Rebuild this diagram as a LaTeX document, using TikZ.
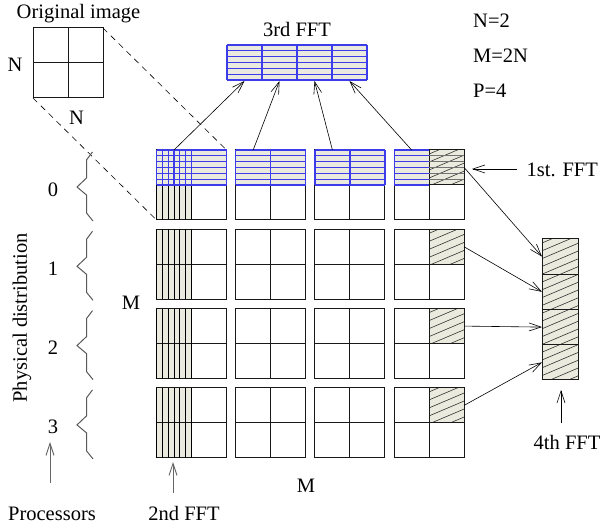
\documentclass[tikz,border=0pt]{standalone}
\usepackage{fontspec}
\setmainfont{Liberation Serif}
\usetikzlibrary{arrows.meta}
\definecolor{beige}{RGB}{234,234,222}
\definecolor{fftblue}{RGB}{60,60,235}
\begin{document}
\begin{tikzpicture}[x=1pt,y=-1pt,
  every node/.style={font=\fontsize{20.5}{24}\selectfont, inner sep=0pt},
  gridline/.style={line width=1pt, black!90},
  stripline/.style={line width=1pt, black},
  blueline/.style={line width=1.2pt, fftblue},
  hatchline/.style={line width=0.6pt, black!80},
  bracel/.style={line width=1pt, black!65},
  arr/.style={-{Straight Barb[length=12pt,width=8pt]}, line width=0.6pt},
  grayarr/.style={-{Straight Barb[length=12pt,width=8pt]}, line width=0.9pt, black!60},
  dashl/.style={line width=0.6pt, dash pattern=on 6pt off 5pt}]
\useasboundingbox (0,0) rectangle (603,526);

% ---------- fills ----------
\foreach \i in {0,...,3}{
  \pgfmathsetmacro\X{156.5+79.2*\i}
  \fill[beige] (\X,150) rectangle (\X+70,185);
}
\foreach \j in {0,...,3}{
  \pgfmathsetmacro\Y{150+79.3*\j}
  \fill[beige] (156.5,\Y) rectangle (191.5,\Y+70);
  % hatched top-right cell of last block
  \begin{scope}
    \clip (429.1,\Y) rectangle (464.1,\Y+35);
    \fill[beige] (429.1,\Y) rectangle (464.1,\Y+35);
    \foreach \k in {0,...,11}{
      \draw[hatchline] (429.1,\Y-4+8*\k) -- ++(40,-17);
    }
  \end{scope}
}
% 3rd FFT
\fill[beige] (227,45) rectangle (367,80);
% 4th FFT
\begin{scope}
  \clip (542.5,239) rectangle (578,380);
  \fill[beige] (542.5,239) rectangle (578,380);
  \foreach \k in {0,...,22}{
    \draw[hatchline] (542.5,235+7.8*\k) -- ++(40,-17);
  }
\end{scope}

% ---------- black grid ----------
\foreach \j in {0,...,3}{
  \foreach \i in {0,...,3}{
    \pgfmathsetmacro\X{156.5+79.2*\i}
    \pgfmathsetmacro\Y{150+79.3*\j}
    \draw[gridline] (\X,\Y) rectangle (\X+70,\Y+70);
    \draw[gridline] (\X+35,\Y) -- (\X+35,\Y+70);
    \draw[gridline] (\X,\Y+35) -- (\X+70,\Y+35);
  }
}
% 2nd FFT column strips
\foreach \j in {0,...,3}{
  \pgfmathsetmacro\Y{150+79.3*\j}
  \pgfmathsetmacro\Ys{\j==0 ? 185 : \Y}
  \foreach \k in {0,...,6}{
    \draw[stripline] (156.5+35*\k/6,\Ys) -- (156.5+35*\k/6,\Y+70);
  }
}
% grey lines in the hatched cell of row 0
\foreach \k in {1,...,5}{
  \draw[line width=0.8pt, black!55] (429.1,150+35*\k/6) -- (464.1,150+35*\k/6);
}

% ---------- blue (row 0, 1st FFT) ----------
\foreach \i in {0,...,2}{
  \pgfmathsetmacro\X{156.5+79.2*\i}
  \foreach \k in {0,...,6}{
    \draw[blueline] (\X,150+35*\k/6) -- (\X+70,150+35*\k/6);
  }
  \draw[blueline] (\X,150) -- (\X,185);
  \draw[blueline] (\X+35,150) -- (\X+35,185);
  \draw[blueline] (\X+70,150) -- (\X+70,185);
}
\foreach \k in {0,...,6}{
  \draw[blueline] (394.1,150+35*\k/6) -- (429.1,150+35*\k/6);
}
\draw[blueline] (394.1,150) -- (394.1,185);
\foreach \k in {0,...,6}{
  \draw[blueline] (156.5+35*\k/6,150) -- (156.5+35*\k/6,185);
}
% 3rd FFT lines
\foreach \k in {0,...,6}{
  \draw[blueline] (227,45+35*\k/6) -- (367,45+35*\k/6);
}
\foreach \m in {0,...,4}{
  \draw[blueline] (227+35*\m,45) -- (227+35*\m,80);
}
% 4th FFT outline
\draw[gridline] (542.5,239) rectangle (578,380);
\foreach \m in {1,...,3}{
  \draw[gridline] (542.5,239+35.25*\m) -- (578,239+35.25*\m);
}

% ---------- original image ----------
\draw[gridline] (33,28) rectangle (103,98);
\draw[gridline] (68,28) -- (68,98);
\draw[gridline] (33,63) -- (103,63);
\coordinate (oTR) at (103,28);
\coordinate (oBL) at (33,98);
\coordinate (bTR) at (226.5,150);
\coordinate (bBL) at (156.5,220);
\draw[dashl] (oTR) -- (bTR);
\draw[dashl] (oBL) -- (bBL);

% ---------- braces ----------
\foreach \j in {0,...,3}{
  \pgfmathsetmacro\Y{150+79.3*\j}
  \draw[bracel] (92.5,\Y+2) -- (86.5,\Y+10) -- (86.5,\Y+28) -- (77,\Y+37)
    -- (86.5,\Y+45) -- (86.5,\Y+63) -- (93,\Y+71);
}

% ---------- arrows ----------
\foreach \i in {0,...,3}{
  \pgfmathsetmacro\X{156.5+79.2*\i}
  \coordinate (src\i) at (\X+17.5,150);
  \coordinate (dst\i) at (244.5+35*\i,81);
  \draw[arr] (src\i) -- (dst\i);
}
\foreach \j in {0,...,3}{
  \pgfmathsetmacro\Y{150+79.3*\j}
  \coordinate (hs\j) at (464.1,\Y+17.5);
  \coordinate (ht\j) at (542,239+35.25*\j+17.6);
  \draw[arr] (hs\j) -- (ht\j);
}

% ---------- labels ----------
\node[anchor=base] (lorig) at (78.5,18.5) {Original image};
\node[anchor=base] (lN1) at (15,72) {N};
\node[anchor=base] (lN2) at (76.5,125) {N};
\node[anchor=base] (l3rd) at (297,36.5) {3rd FFT};
\node[anchor=base west] (lN) at (473,28) {N=2};
\node[anchor=base west] (lM) at (473,63) {M=2N};
\node[anchor=base west] (lP) at (473,97.5) {P=4};
\node[anchor=base west] (l1st) at (526.5,176.5) {1st. FFT};
\node[anchor=base] (l4th) at (567,450) {4th FFT};
\node[anchor=base] (l2nd) at (184,521) {2nd FFT};
\node[anchor=base] (lproc) at (52,521) {Processors};
\node[anchor=base] (lMb) at (306,493) {M};
\node[anchor=base] (lMl) at (131,310) {M};
\node[anchor=base] (p0) at (53,197) {0};
\node[anchor=base] (p1) at (53,276) {1};
\node[anchor=base] (p2) at (53,355) {2};
\node[anchor=base] (p3) at (53,434) {3};
\node[rotate=90] (lphys) at (22,318) {Physical distribution};

\coordinate (a1s) at (517,169);
\coordinate (a1t) at (472,169);
\draw[arr] (a1s) -- (a1t);
\coordinate (a4s) at (561,423);
\coordinate (a4t) at (561,390);
\draw[arr] (a4s) -- (a4t);
\coordinate (a2s) at (173,493);
\coordinate (a2t) at (173,462);
\draw[grayarr] (a2s) -- (a2t);
\coordinate (aps) at (50,483);
\coordinate (apt) at (50,442);
\draw[grayarr] (aps) -- (apt);
\end{tikzpicture}
\end{document}
